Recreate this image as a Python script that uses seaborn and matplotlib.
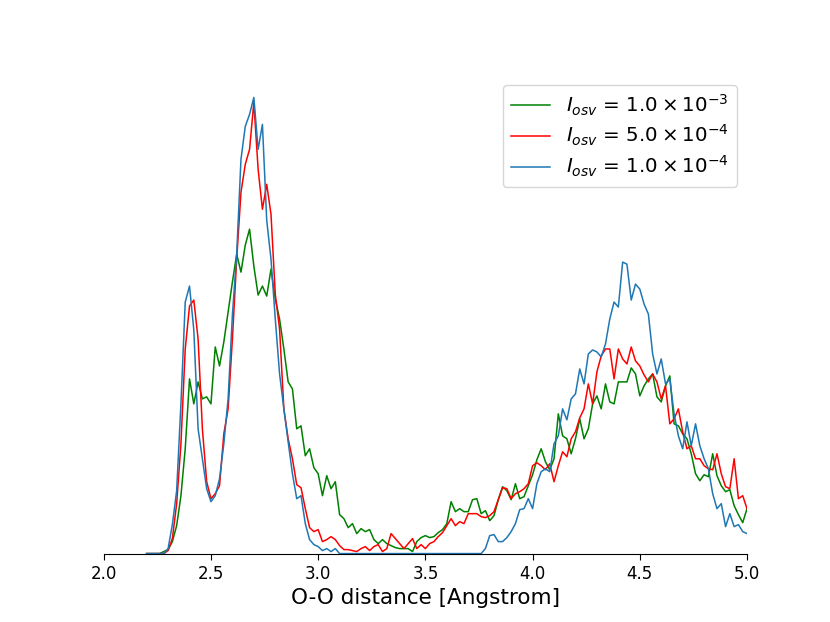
import numpy as np
import pandas as pd
import matplotlib
matplotlib.use("Agg")
import matplotlib.pyplot as plt
import seaborn as sns

# O-O distance grid (Angstrom)
distance = np.round(np.linspace(2.20, 5.00, 141), 2)

# I_osv = 1.0e-3 (green)
rdf_1e3 = [
    0, 0, 0, 0, 2, 4, 12, 28, 58, 105,
    175, 150, 172, 155, 157, 150, 207, 188, 212, 242,
    272, 300, 282, 309, 325, 288, 259, 268, 258, 285,
    255, 235, 205, 172, 165, 125, 128, 98, 105, 86,
    80, 58, 78, 65, 72, 39, 35, 26, 30, 20,
    25, 22, 24, 14, 10, 14, 10, 8, 6, 5,
    5, 5, 2, 12, 16, 18, 16, 17, 21, 24,
    30, 52, 42, 45, 42, 42, 54, 55, 40, 43,
    33, 38, 54, 67, 63, 54, 70, 55, 57, 68,
    79, 94, 105, 92, 84, 95, 140, 118, 115, 100,
    115, 135, 115, 125, 150, 158, 145, 170, 152, 150,
    172, 172, 172, 186, 180, 158, 168, 175, 180, 157,
    152, 168, 178, 130, 128, 120, 115, 100, 80, 73,
    79, 77, 100, 78, 68, 62, 64, 48, 39, 31,
    45,
]

# I_osv = 5.0e-4 (red)
rdf_5e4 = [
    0, 0, 0, 0, 0, 3, 15, 50, 110, 205,
    248, 254, 215, 125, 72, 55, 60, 68, 120, 145,
    215, 295, 362, 390, 405, 452, 385, 345, 370, 340,
    260, 225, 145, 115, 95, 69, 66, 45, 26, 22,
    24, 12, 14, 17, 14, 8, 4, 4, 3, 2,
    5, 7, 3, 7, 9, 2, 5, 20, 15, 10,
    5, 10, 15, 5, 9, 5, 10, 12, 17, 21,
    28, 35, 28, 32, 30, 40, 40, 40, 37, 36,
    38, 42, 54, 66, 65, 55, 60, 62, 65, 70,
    88, 91, 88, 84, 90, 72, 88, 102, 97, 115,
    122, 136, 145, 170, 150, 182, 198, 205, 205, 175,
    205, 195, 190, 207, 193, 188, 179, 172, 180, 172,
    155, 168, 130, 135, 145, 122, 105, 108, 95, 95,
    88, 85, 84, 100, 80, 67, 65, 95, 55, 58,
    45,
]

# I_osv = 1.0e-4 (blue)
rdf_1e4 = [
    0, 0, 0, 0, 0, 5, 29, 63, 150, 252,
    268, 224, 125, 95, 65, 52, 58, 75, 110, 155,
    239, 300, 395, 428, 440, 457, 405, 430, 334, 295,
    235, 180, 145, 112, 80, 55, 58, 30, 14, 9,
    7, 3, 5, 2, 5, 0, 0, 0, 0, 0,
    0, 0, 0, 0, 0, 0, 0, 0, 0, 0,
    0, 0, 0, 0, 0, 0, 0, 0, 0, 0,
    0, 0, 0, 0, 0, 0, 0, 0, 0, 5,
    18, 19, 12, 12, 16, 22, 30, 44, 45, 55,
    45, 70, 82, 85, 82, 110, 118, 145, 134, 155,
    160, 185, 170, 200, 204, 202, 197, 210, 235, 252,
    247, 292, 290, 254, 270, 265, 250, 240, 200, 180,
    195, 170, 175, 140, 118, 105, 132, 108, 130, 108,
    95, 85, 60, 45, 50, 27, 40, 27, 29, 22,
    20,
]

labels = [r'$I_{osv}$ = $1.0 \times 10^{-3}$',
          r'$I_{osv}$ = $5.0 \times 10^{-4}$',
          r'$I_{osv}$ = $1.0 \times 10^{-4}$']
colors = ['green', 'red', '#1f77b4']
series = [rdf_1e3, rdf_5e4, rdf_1e4]

df = pd.concat(
    [pd.DataFrame({'r': distance, 'g': vals, 'run': lab})
     for vals, lab in zip(series, labels)],
    ignore_index=True)

fig, ax = plt.subplots(figsize=(8.3, 6.22), dpi=100)
sns.lineplot(data=df, x='r', y='g', hue='run', hue_order=labels,
             palette=dict(zip(labels, colors)), linewidth=1.1,
             estimator=None, sort=False, ax=ax)

leg = ax.get_legend()
handles = leg.legend_handles
texts = [t.get_text() for t in leg.get_texts()]
ax.legend(handles, texts, loc='upper right', fontsize=14.3,
          labelspacing=0.28)

ax.set_xlim(2.0, 5.0)
ax.set_ylim(bottom=0)
ax.set_xticks([2.0, 2.5, 3.0, 3.5, 4.0, 4.5, 5.0])
ax.tick_params(axis='x', labelsize=12, length=4.5)
ax.set_yticks([])
ax.set_ylabel('')
ax.set_xlabel('O-O distance [Angstrom]', fontsize=15.5)
for s in ['left', 'top', 'right']:
    ax.spines[s].set_visible(False)

fig.savefig('out.png', dpi=100)
